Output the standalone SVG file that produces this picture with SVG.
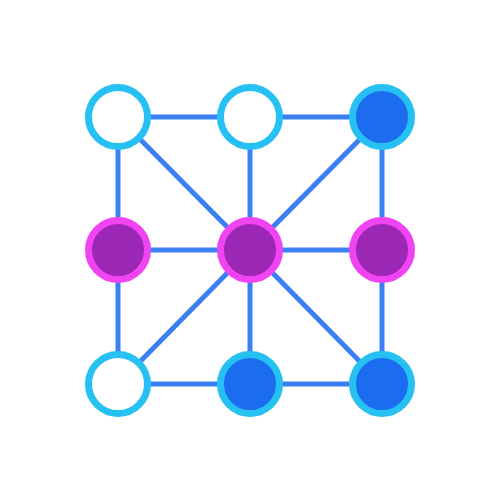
<svg xmlns="http://www.w3.org/2000/svg" width="500" height="500" viewBox="0 0 500 500">
<style>
.e{stroke:#3a80f2;stroke-width:5;stroke-linecap:round;fill:none}
.w{fill:#ffffff;stroke:#27c0f3;stroke-width:7}
.b{fill:#1b6cee;stroke:#27c0f3;stroke-width:7}
.p{fill:#9c27b5;stroke:#f044f2;stroke-width:7}
</style>
<rect width="500" height="500" fill="#ffffff"/>
<g id="edges">
<line class="e" x1="118" y1="117" x2="382" y2="117"/>
<line class="e" x1="118" y1="250" x2="382" y2="250"/>
<line class="e" x1="118" y1="384" x2="382" y2="384"/>
<line class="e" x1="118" y1="117" x2="118" y2="384"/>
<line class="e" x1="250" y1="117" x2="250" y2="384"/>
<line class="e" x1="382" y1="117" x2="382" y2="384"/>
<line class="e" x1="118" y1="117" x2="250" y2="250"/>
<line class="e" x1="382" y1="117" x2="250" y2="250"/>
<line class="e" x1="118" y1="384" x2="250" y2="250"/>
<line class="e" x1="382" y1="384" x2="250" y2="250"/>
</g>
<g id="n-tl"><circle class="w" cx="118" cy="117" r="29.5"/></g>
<g id="n-tm"><circle class="w" cx="250" cy="117" r="29.5"/></g>
<g id="n-tr"><circle class="b" cx="382" cy="117" r="29.5"/></g>
<g id="n-ml"><circle class="p" cx="118" cy="250" r="29.5"/></g>
<g id="n-c"><circle class="p" cx="250" cy="250" r="29.5"/></g>
<g id="n-mr"><circle class="p" cx="382" cy="250" r="29.5"/></g>
<g id="n-bl"><circle class="w" cx="118" cy="384" r="29.5"/></g>
<g id="n-bm"><circle class="b" cx="250" cy="384" r="29.5"/></g>
<g id="n-br"><circle class="b" cx="382" cy="384" r="29.5"/></g>
</svg>
